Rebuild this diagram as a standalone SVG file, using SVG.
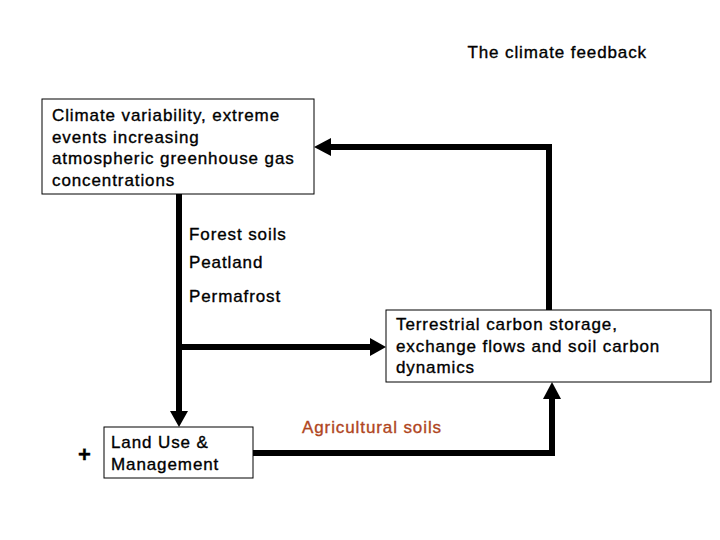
<svg xmlns="http://www.w3.org/2000/svg" width="720" height="540" viewBox="0 0 720 540">
<style>
text{font-family:"Liberation Sans",Arial,sans-serif;font-size:17px;letter-spacing:0.9px;fill:#000;stroke:#000;stroke-width:0.35}
.box{fill:#fff;stroke:#000;stroke-width:1}
.ln{fill:none;stroke:#000;stroke-width:6}
.ah{fill:#000}
</style>
<rect width="720" height="540" fill="#fff"/>
<text x="647" y="58" text-anchor="end">The climate feedback</text>
<g id="connectors">
<path class="ln" d="M179,194 V412"/>
<polygon class="ah" points="170,411 188,411 179,427"/>
<path class="ln" d="M179,347 H372"/>
<polygon class="ah" points="370,338 370,356 386,347"/>
<path class="ln" d="M253,453 H552 V398"/>
<polygon class="ah" points="543,399 561,399 552,382"/>
<path class="ln" d="M549,310 V147 H330"/>
<polygon class="ah" points="331,138 331,156 314,147"/>
</g>
<g id="climate"><rect class="box" x="42" y="99" width="272" height="95"/>
<text x="52" y="121">Climate variability, extreme</text><text x="52" y="143">events increasing</text><text x="52" y="164">atmospheric greenhouse gas</text><text x="52" y="186">concentrations</text></g>
<g id="labels"><text x="189" y="240">Forest soils</text><text x="189" y="268">Peatland</text><text x="189" y="302">Permafrost</text>
<text x="302" y="433" style="fill:#b0461e;stroke:#b0461e">Agricultural soils</text>
<text x="78" y="462" style="font-size:22px;font-weight:bold">+</text></g>
<g id="terrestrial"><rect class="box" x="386" y="310" width="325" height="72"/>
<text x="396" y="330">Terrestrial carbon storage,</text><text x="396" y="352">exchange flows and soil carbon</text><text x="396" y="373">dynamics</text></g>
<g id="landuse"><rect class="box" x="104" y="427" width="149" height="51"/>
<text x="111" y="448">Land Use &amp;</text><text x="111" y="470">Management</text></g>
</svg>
